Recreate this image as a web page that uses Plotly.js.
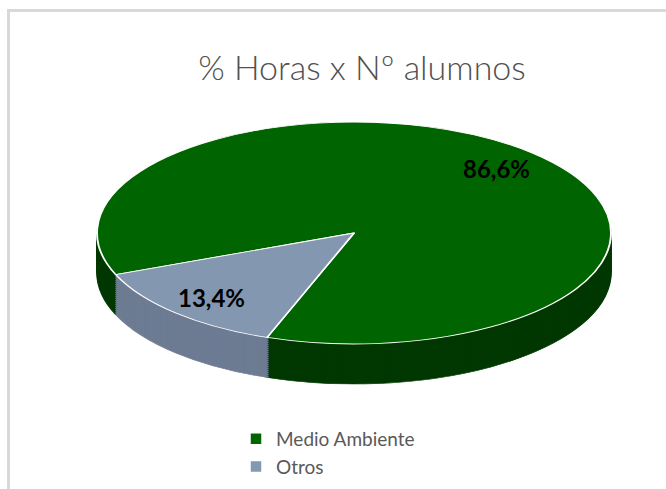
<!DOCTYPE html>
<html>
<head>
<meta charset="utf-8">
<script src="https://cdn.plot.ly/plotly-3.0.1.min.js"></script>
<style>
  html, body { margin: 0; padding: 0; background: #ffffff; }
  #wrap { position: relative; width: 666px; height: 489px; overflow: hidden; }
  #chart { position: absolute; left: 0; top: 0; width: 666px; height: 489px; }
  #frame { position: absolute; left: 7px; top: 9px; width: 720px; height: 520px;
           border-left: 3px solid #d9d9d9; border-top: 3px solid #d9d9d9; pointer-events: none; }
</style>
</head>
<body>
<div id="wrap">
  <div id="chart"></div>
  <div id="frame"></div>
</div>
<script>
// ---- data ----
const labels = ['Medio Ambiente', 'Otros'];
const values = [86.6, 13.4];
const chartTitle = '% Horas x Nº alumnos';

// ---- styles ----
const topColors = ['#006400', '#8497b0'];
const sideColors = ['#003800', '#6d7c93'];
const domainX = [154 / 666, 554 / 666];
const domainY = [56 / 489, 456 / 489];
const radiusX = 257, radiusY = 111;   // projected ellipse semi-axes (px)
const depth = 40;                      // side thickness (px)
const step = 2;
const labelRadius = 0.8;
const fontFam = 'Lato, "Open Sans", sans-serif';

const traces = [];
for (let off = depth; off > 0; off -= step) {
  traces.push({
    type: 'pie', labels: labels, values: values, sort: false,
    direction: 'clockwise', rotation: 248,
    domain: { x: domainX, y: domainY },
    marker: { colors: sideColors, line: { color: sideColors, width: 1 } },
    textinfo: 'none', hoverinfo: 'skip', showlegend: false,
    meta: off
  });
}
traces.push({
  type: 'pie', labels: labels, values: values, sort: false,
  direction: 'clockwise', rotation: 248,
  domain: { x: domainX, y: domainY },
  marker: { colors: topColors, line: { color: '#ffffff', width: 1.5 } },
  texttemplate: '%{percent:.1%}', textposition: 'inside',
  insidetextorientation: 'horizontal',
  insidetextfont: { family: fontFam, size: 24, color: '#000000', weight: 'bold' },
  hoverinfo: 'skip', showlegend: true, meta: 0
});

const layout = {
  width: 666, height: 489,
  margin: { l: 0, r: 0, t: 0, b: 0 },
  paper_bgcolor: 'rgba(0,0,0,0)', plot_bgcolor: 'rgba(0,0,0,0)',
  separators: ',.',
  title: {
    text: chartTitle, x: 362 / 666, xanchor: 'center', xref: 'paper',
    y: 1 - 68 / 489, yanchor: 'middle', yref: 'paper',
    font: { family: fontFam, size: 34, color: '#505050', weight: 300 }
  },
  showlegend: true,
  legend: {
    x: 236 / 666, xanchor: 'left', y: 1 - 420 / 489, yanchor: 'top',
    font: { family: fontFam, size: 19, color: '#595959' },
    bgcolor: 'rgba(0,0,0,0)', traceorder: 'normal'
  }
};

Plotly.newPlot('chart', traces, layout, { staticPlot: true, displayModeBar: false }).then(function (gd) {
  const sz = gd._fullLayout._size;
  const cx = sz.l + sz.w * (domainX[0] + domainX[1]) / 2;
  const cy = sz.t + sz.h * (1 - (domainY[0] + domainY[1]) / 2);
  const r = Math.min(sz.w * (domainX[1] - domainX[0]), sz.h * (domainY[1] - domainY[0])) / 2;
  const kx = radiusX / r, ky = radiusY / r;
  const groups = gd.querySelectorAll('.pielayer g.trace');
  groups.forEach(function (g, i) {
    const off = gd._fullData[i].meta || 0;
    g.setAttribute('transform',
      'translate(0,' + off + ') translate(' + cx + ',' + cy + ') scale(' + kx + ',' + ky + ') translate(' + (-cx) + ',' + (-cy) + ')');
    const cd = gd.calcdata[i];
    g.querySelectorAll('g.slice').forEach(function (s, j) {
      const t = s.querySelector('text.slicetext');
      const pt = cd[j];
      if (!t || !pt || !pt.pxmid) return;
      const mx = cx + pt.pxmid[0] * labelRadius;
      const my = cy + pt.pxmid[1] * labelRadius;
      t.setAttribute('transform', 'translate(' + mx + ',' + my + ') scale(' + (1 / kx) + ',' + (1 / ky) + ')');
      const bb = t.getBBox();
      t.setAttribute('transform', 'translate(' + mx + ',' + my + ') scale(' + (1 / kx) + ',' + (1 / ky) + ') translate(' +
        (-(bb.x + bb.width / 2)) + ',' + (-(bb.y + bb.height / 2)) + ')');
    });
  });
});
</script>
</body>
</html>
